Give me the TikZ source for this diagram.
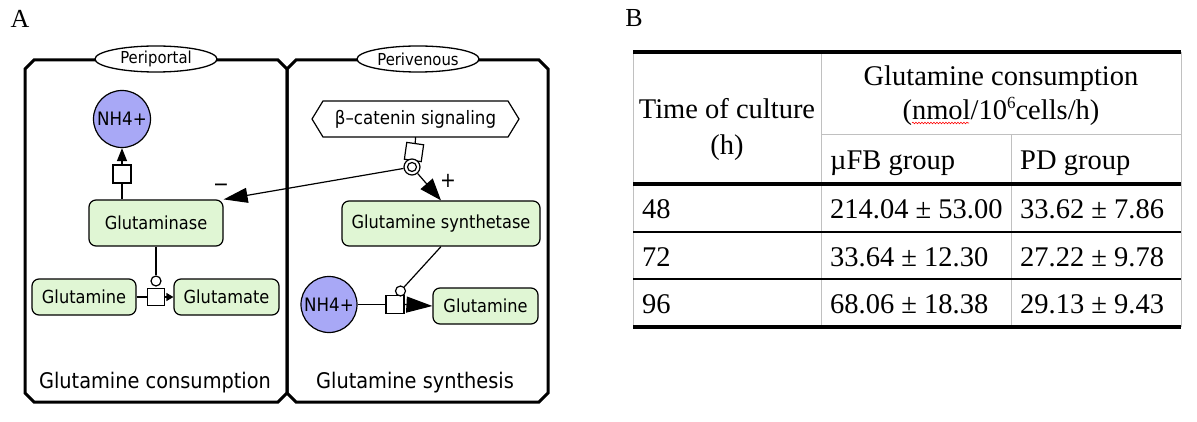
\documentclass[tikz,border=0pt]{standalone}
\usepackage{fontspec}
\setmainfont{Liberation Serif}
\newfontfamily\dia[FakeStretch=0.9]{DejaVu Sans}
\usetikzlibrary{arrows.meta,decorations.pathmorphing,shapes.geometric}
\definecolor{spgreen}{RGB}{224,246,212}
\definecolor{splav}{RGB}{168,168,246}
\definecolor{tgray}{RGB}{192,192,192}
\begin{document}
\begin{tikzpicture}[x=1pt,y=-1pt,
  species/.style={draw,line width=1.2pt,fill=spgreen,rounded corners=7pt,inner sep=0pt,font=\dia\fontsize{18}{20}\selectfont},
  ion/.style={draw,circle,line width=1.2pt,fill=splav,inner sep=0pt,minimum size=57pt,font=\dia\fontsize{18.5}{20}\selectfont},
  proc/.style={draw,rectangle,line width=1.2pt,fill=white,inner sep=0pt,minimum size=17pt},
  catc/.style={draw,circle,line width=1.2pt,fill=white,inner sep=0pt,minimum size=10pt},
  comp/.style={line width=3pt,line join=miter},
  compname/.style={draw,ellipse,line width=1.3pt,fill=white,inner sep=0pt,minimum width=122pt,minimum height=26pt,font=\dia\fontsize{16.5}{18}\selectfont},
  complabel/.style={inner sep=0pt,font=\dia\fontsize{21.5}{24}\selectfont},
  link/.style={line width=1.2pt},
  bigtip/.style={-{Triangle[length=24pt,width=15pt]}},
  tabtext/.style={inner sep=0pt,font=\fontsize{28.5}{30}\selectfont},
  panel/.style={inner sep=0pt,font=\fontsize{26}{28}\selectfont},
  sign/.style={inner sep=0pt,font=\dia\fontsize{21}{21}\selectfont}
]
\useasboundingbox (0,0) rectangle (1197,422);

% panel labels
\node[panel,anchor=base] (labA) at (20,28) {A};
\node[panel,anchor=base] (labB) at (634,27) {B};

% compartments
\draw[comp] (25,69) -- (34,60) -- (278,60) -- (287,69) -- (287,393) -- (278,402) -- (34,402) -- (25,393) -- cycle;
\draw[comp] (287,69) -- (296,60) -- (539,60) -- (548,69) -- (548,393) -- (539,402) -- (296,402) -- (287,393) -- cycle;
\node[compname] (pp) at (156,59) {Periportal};
\node[compname] (pv) at (418,59) {Perivenous};
\node[complabel] (cl1) at (155,383) {Glutamine consumption};
\node[complabel] (cl2) at (415,383) {Glutamine synthesis};

% left compartment
\node[ion] (nh4a) at (122,119) {NH4+};
\node[proc,minimum size=18pt] (pa) at (122,174) {};
\node[species,minimum width=134pt,minimum height=46pt] (gase) at (156,223) {Glutaminase};
\node[catc] (ca) at (156,281) {};
\node[proc] (pb) at (156,297) {};
\node[species,minimum width=104pt,minimum height=36pt] (gln1) at (84,297) {Glutamine};
\node[species,minimum width=105pt,minimum height=36pt] (glu) at (226.5,297) {Glutamate};
\draw[link,-{Triangle[length=13pt,width=10pt]}] (pa.north) -- (nh4a.south);
\draw[link] (pa.south) -- (pa.south |- gase.north);
\draw[link] (gase.south) -- (ca.north);
\draw[link] (gln1.east) -- (pb.west);
\draw[link,-{Triangle[length=7pt,width=8pt]}] (pb.east) -- (glu.west);

% right compartment
\draw[line width=1.2pt] (312,119) -- (323,101) -- (508,101) -- (519,119) -- (508,137) -- (323,137) -- cycle;
\node[inner sep=0pt,minimum width=190pt,minimum height=36pt,font=\dia\fontsize{18.5}{20}\selectfont] (bcat) at (415.5,119) {β–catenin signaling};
\node[proc,rotate=-8] (tr) at (414,152) {};
\draw[link] (bcat.south) -- (tr.north);
\node[catc,minimum size=16pt] (dc) at (412,167) {};
\node[catc,minimum size=9pt] (dci) at (412,167) {};
\node[species,minimum width=198pt,minimum height=45pt] (gs) at (441,223.5) {Glutamine synthetase};
\node[ion,minimum size=56pt] (nh4b) at (329,304.5) {NH4+};
\node[proc,minimum size=18pt] (pc) at (395,304.5) {};
\node[catc] (cb) at (400.5,291) {};
\node[species,minimum width=105pt,minimum height=36pt] (gln2) at (485.5,306) {Glutamine};
\draw[link,bigtip] (dc) -- (gase.north east);
\draw[link,-{Triangle[length=22pt,width=16pt]}] (dc) -- (gs.north);
\draw[link] (gs.south) -- (cb);
\draw[link] (nh4b.east) -- (pc.west);
\draw[link,-{Triangle[length=26pt,width=16pt]}] (pc.east) -- (gln2.west);
\node[sign] (minus) at (221,188) {−};
\node[sign] (plus) at (448,181) {+};

% table
\draw[tgray,line width=1pt] (633,52) -- (633,327) (821,52) -- (821,327) (1011,135) -- (1011,327) (1181,52) -- (1181,327) (821,135) -- (1181,135);
\draw[line width=3.5pt] (633,52) -- (1181,52) (633,184) -- (1181,184) (633,327) -- (1181,327);
\draw[line width=1.2pt] (633,232) -- (1181,232) (633,279) -- (1181,279);
\node[tabtext,anchor=base] (tc) at (727,119) {Time of culture};
\node[tabtext,anchor=base] (th) at (727,155) {(h)};
\node[tabtext,anchor=base] (gc) at (1001,86) {Glutamine consumption};
\node[tabtext,anchor=base] (unit) at (1001,120) {(nmol/10\raisebox{0.42em}{\fontsize{17}{17}\selectfont 6}cells/h)};
\draw[red,line width=0.6pt,decorate,decoration={snake,segment length=3pt,amplitude=0.8pt}] (912,123) -- (969,123);
\node[tabtext,anchor=base west] (c1) at (830,170) {µFB group};
\node[tabtext,anchor=base west] (c2) at (1020,170) {PD group};
\node[tabtext,anchor=base west] (r1) at (642,219) {48};
\node[tabtext,anchor=base west] (r2) at (642,266) {72};
\node[tabtext,anchor=base west] (r3) at (642,313) {96};
\node[tabtext,anchor=base west] (v11) at (830,219) {214.04 ± 53.00};
\node[tabtext,anchor=base west] (v21) at (830,266) {33.64 ± 12.30};
\node[tabtext,anchor=base west] (v31) at (830,313) {68.06 ± 18.38};
\node[tabtext,anchor=base west] (v12) at (1020,219) {33.62 ± 7.86};
\node[tabtext,anchor=base west] (v22) at (1020,266) {27.22 ± 9.78};
\node[tabtext,anchor=base west] (v32) at (1020,313) {29.13 ± 9.43};
\end{tikzpicture}
\end{document}
